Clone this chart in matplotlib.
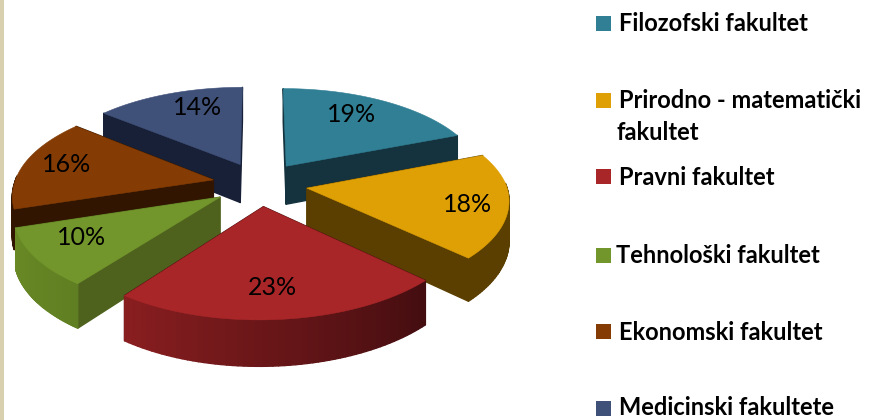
import numpy as np
import matplotlib
matplotlib.use("Agg")
import matplotlib.pyplot as plt
from matplotlib.patches import Polygon, Rectangle
from matplotlib.colors import to_rgb

categories = ["Filozofski fakultet", "Prirodno - matematički\nfakultet", "Pravni fakultet",
              "Tehnološki fakultet", "Ekonomski fakultet", "Medicinski fakultete"]
values = [19, 18, 23, 10, 16, 14]
top_colors = ["#307F94", "#DFA006", "#A92628", "#72962B", "#843C04", "#3F5079"]
face_colors = ["#14333F", "#5A3F00", "#430D10", "#4E621D", "#321500", "#172036"]
rim_start = ["#14333F", "#5A3F00", "#430D10", "#5F7F22", "#321500", "#172036"]
rim_end = ["#14333F", "#5A3F00", "#8A1E20", "#6A8A26", "#321500", "#172036"]
label_radius = [0.985, 1.04, 0.987, 0.985, 1.02, 0.998]
label_turn = [3.0, -1.5, -1.0, -2.7, -1.4, -4.5]
legend_baselines = [[31], [108, 140], [185], [263], [340], [415]]
legend_boxes = [16, 93, 169, 248, 324, 401]
legend_x = [619, 619, 619, 616, 619, 619]

CX, CY, A, B, PX, PY, SKEW, EXPLODE, DEPTH = 260.0, 184.0, 199.0, 92.0, 0.13, 0.13, 5.0, 0.24, 39.0


def project(x, y, z=0.0):
    sx = 1.0 / (1.0 + PX * y)
    sy = 1.0 / (1.0 + PY * y)
    return CX + SKEW * min(y, 0.0) + A * x * sx, CY - B * y * sy + z * DEPTH * sy


def lerp(c1, c2, t):
    a, b = np.array(to_rgb(c1)), np.array(to_rgb(c2))
    return tuple(a + (b - a) * t)


fig = plt.figure(figsize=(8.71, 4.2), dpi=100, facecolor="white")
ax = fig.add_axes([0, 0, 1, 1])
ax.set_xlim(0, 871)
ax.set_ylim(420, 0)
ax.axis("off")
ax.add_patch(Rectangle((0, 0), 3.5, 420, color="#D9D0B0", lw=0))

fractions = np.array(values) / sum(values)
ends = 90 - 360 * np.cumsum(fractions)
starts = ends + 360 * fractions
mids = (starts + ends) / 2
order = np.argsort(-np.sin(np.radians(mids)))

z = 2
for i in order:
    bis = np.radians(mids[i])
    ox, oy = EXPLODE * np.cos(bis), EXPLODE * np.sin(bis)
    th = np.radians(np.linspace(starts[i], ends[i], 60))
    rx, ry = ox + np.cos(th), oy + np.sin(th)

    faces = []
    for a in (th[0], th[-1]):
        ex, ey = ox + np.cos(a), oy + np.sin(a)
        quad = [project(ox, oy), project(ex, ey), project(ex, ey, 1), project(ox, oy, 1)]
        faces.append(((oy + ey) / 2, quad, face_colors[i]))
    for k in range(len(th) - 1):
        if np.sin((th[k] + th[k + 1]) / 2) > 0.05:
            continue
        t = (k + 0.5) / (len(th) - 1)
        quad = [project(rx[k], ry[k]), project(rx[k + 1], ry[k + 1]),
                project(rx[k + 1], ry[k + 1], 1), project(rx[k], ry[k], 1)]
        col = lerp(rim_start[i], rim_end[i], t)
        faces.append(((ry[k] + ry[k + 1]) / 2, quad, col))
    for _, quad, col in sorted(faces, key=lambda f: -f[0]):
        ax.add_patch(Polygon(quad, closed=True, facecolor=col, edgecolor=col, lw=1.0,
                             joinstyle="round", zorder=z))
        z += 0.001
    top = [project(ox, oy)] + [project(x, y) for x, y in zip(rx, ry)]
    ax.add_patch(Polygon(top, closed=True, facecolor=top_colors[i], edgecolor=top_colors[i],
                         lw=0.4, zorder=z))
    z += 1

for i, v in enumerate(values):
    ang = np.radians(mids[i] + label_turn[i])
    lx, ly = project(label_radius[i] * np.cos(ang), label_radius[i] * np.sin(ang))
    ax.text(lx, ly, f"{v}%", ha="center", va="center", fontsize=18, family="Lato",
            color="black", zorder=100)

for i, name in enumerate(categories):
    ax.add_patch(Rectangle((596, legend_boxes[i]), 15, 15, facecolor=top_colors[i], lw=0))
    for j, (line, base) in enumerate(zip(name.split("\n"), legend_baselines[i])):
        ax.text(616 if j else legend_x[i], base, line, ha="left", va="baseline", fontsize=17,
                family="Lato", weight="bold", color="black")

fig.savefig("out.png", dpi=100)
